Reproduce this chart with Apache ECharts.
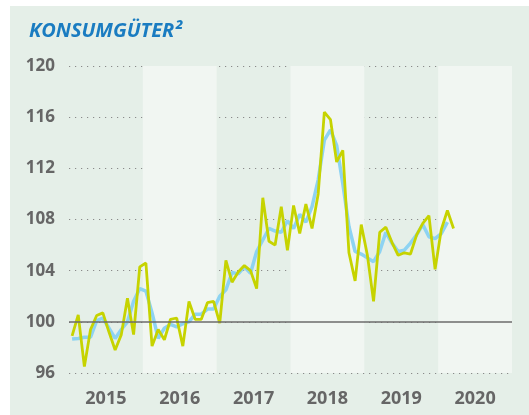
<!DOCTYPE html>
<html>
<head>
<meta charset="utf-8">
<script src="https://cdn.jsdelivr.net/npm/echarts@6/dist/echarts.min.js"></script>
<style>
  html, body { margin: 0; padding: 0; background: #fff; }
  .wrap { position: relative; width: 529px; height: 415px; }
  .bg { position: absolute; left: 10px; top: 6px; right: 0; bottom: 0; background: #e5efe8; }
  #chart { position: absolute; left: 0; top: 0; width: 529px; height: 415px; }
</style>
</head>
<body>
<div class="wrap">
  <div class="bg"></div>
  <div id="chart"></div>
</div>
<script>
const years = ['2015', '2016', '2017', '2018', '2019', '2020']
const monthNames = ['Jan', 'Feb', 'Mär', 'Apr', 'Mai', 'Jun', 'Jul', 'Aug', 'Sep', 'Okt', 'Nov', 'Dez']
const yTicks = [96, 100, 104, 108, 112, 116, 120]

// Trend (hellblau), Jan 2015 - Feb 2020
const trend = [
  98.65, 98.7, 98.8, 98.8, 100.1, 100.3, 99.5, 98.7, 99.4, 100.0, 101.6, 102.6,
  102.4, 100.7, 98.7, 99.5, 99.8, 99.6, 99.85, 100.0, 100.6, 100.6, 101.0, 101.0,
  102.0, 102.5, 103.85, 103.75, 104.3, 103.8, 105.5, 106.4, 107.3, 107.1, 107.0, 107.9,
  107.3, 108.4, 107.8, 109.0, 111.1, 114.2, 115.0, 113.8, 110.8, 107.45, 105.5, 105.3,
  105.0, 104.7, 105.5, 107.0, 106.15, 105.5, 105.6, 106.15, 106.8, 107.6, 106.65, 106.5,
  106.9, 107.8
]

// Monatswerte (gelbgrün), Jan 2015 - Mär 2020
const monthly = [
  98.9, 100.55, 96.5, 99.4, 100.5, 100.7, 99.2, 97.8, 99.0, 101.85, 99.0, 104.3,
  104.6, 98.1, 99.4, 98.6, 100.2, 100.3, 98.1, 101.6, 100.2, 100.2, 101.5, 101.6,
  99.9, 104.8, 103.1, 103.9, 104.4, 104.0, 102.6, 109.7, 106.3, 106.0, 109.0, 105.6,
  109.1, 106.9, 109.2, 107.3, 110.0, 116.4, 115.8, 112.5, 113.4, 105.4, 103.2, 107.6,
  105.2, 101.6, 107.0, 107.4, 106.2, 105.2, 105.4, 105.3, 106.8, 107.7, 108.3, 104.1,
  107.2, 108.7, 107.3
]

const months = years.flatMap(y => monthNames.map(m => m + ' ' + y))

const chart = echarts.init(document.getElementById('chart'))

const option = {
  animation: false,
  title: {
    text: 'KONSUMGÜTER²',
    left: 24,
    top: 16,
    textStyle: {
      fontFamily: 'Open Sans',
      fontStyle: 'italic',
      fontWeight: 'bold',
      fontSize: 20,
      color: '#1a7cc1'
    }
  },
  grid: { left: 69, right: 17, top: 66, bottom: 42 },
  xAxis: [
    {
      type: 'category',
      data: months,
      boundaryGap: true,
      axisLine: { show: false },
      axisTick: { show: false },
      axisLabel: { show: false },
      splitLine: { show: false }
    },
    {
      type: 'category',
      data: years,
      position: 'bottom',
      boundaryGap: true,
      axisLine: { show: false },
      axisTick: { show: false },
      axisLabel: {
        margin: 17,
        fontFamily: 'Open Sans',
        fontWeight: 'bold',
        fontSize: 18,
        color: '#666'
      },
      splitArea: {
        show: true,
        areaStyle: { color: ['rgba(0,0,0,0)', '#f1f6f2'] }
      }
    }
  ],
  yAxis: {
    type: 'value',
    min: yTicks[0],
    max: yTicks[yTicks.length - 1],
    interval: 4,
    axisLine: { show: false },
    axisTick: { show: false },
    axisLabel: {
      margin: 14,
      fontFamily: 'Open Sans',
      fontWeight: 'bold',
      fontSize: 17,
      color: '#666'
    },
    splitLine: {
      lineStyle: { color: '#8a8a8a', width: 1.2, type: [1.2, 4.8] }
    }
  },
  series: [
    {
      name: 'Trend',
      type: 'line',
      data: trend,
      symbol: 'none',
      lineStyle: { color: '#8dd3f2', width: 3.5 },
      z: 2,
      markLine: {
        silent: true,
        symbol: 'none',
        label: { show: false },
        lineStyle: { color: '#6b6b6b', width: 1.5, type: 'solid' },
        data: [{ yAxis: 100 }]
      }
    },
    {
      name: 'Monatswerte',
      type: 'line',
      data: monthly,
      symbol: 'none',
      lineStyle: { color: '#c6d300', width: 2.8 },
      z: 3
    }
  ]
}

chart.setOption(option)
</script>
</body>
</html>
